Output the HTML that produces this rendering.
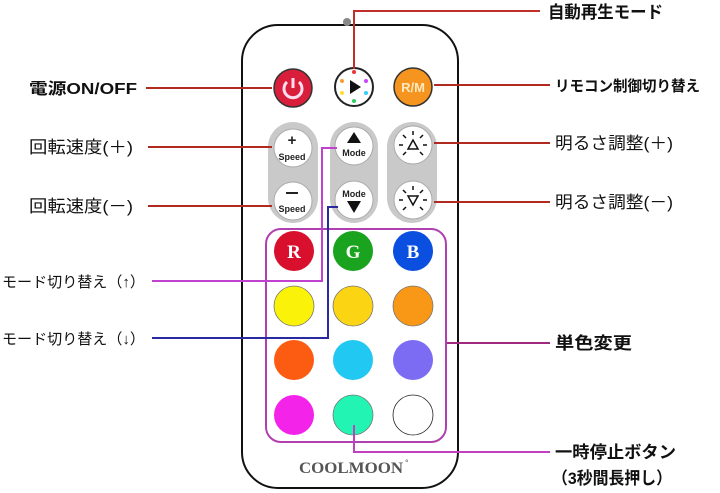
<!DOCTYPE html>
<html><head><meta charset="utf-8"><style>
html,body{margin:0;padding:0;background:#fff;width:720px;height:493px;overflow:hidden}
text{font-family:"Liberation Sans","Noto Sans CJK JP",sans-serif;}
</style></head><body>
<svg width="720" height="493" viewBox="0 0 720 493" xmlns="http://www.w3.org/2000/svg">
<rect x="242" y="25" width="216" height="463" rx="36" fill="#fff" stroke="#111" stroke-width="2"/>
<circle cx="347" cy="22" r="4" fill="#888"/>
<circle cx="293" cy="88" r="19" fill="#d81e3a" stroke="#333" stroke-width="1.5"/>
<path d="M287 82 A9 9 0 1 0 299 82" fill="none" stroke="#fde" stroke-width="3"/>
<line x1="293" y1="78" x2="293" y2="88" stroke="#fde" stroke-width="3"/>
<circle cx="354" cy="87" r="19" fill="#fff" stroke="#222" stroke-width="2"/>
<path d="M350 80 L361 87 L350 94 Z" fill="#111"/>
<circle cx="354" cy="72" r="2" fill="#e33"/><circle cx="366" cy="81" r="2" fill="#c4f"/><circle cx="366" cy="93" r="2" fill="#3cf"/><circle cx="354" cy="101" r="2" fill="#3c6"/><circle cx="342" cy="93" r="2" fill="#fd3"/><circle cx="342" cy="81" r="2" fill="#f93"/>
<circle cx="413" cy="87" r="19" fill="#f5951f" stroke="#333" stroke-width="1.5"/>
<text x="413" y="92" font-size="13" font-weight="bold" fill="#fde9c0" text-anchor="middle">R/M</text>
<rect x="268" y="122" width="50" height="101" rx="25" fill="#c9c9c9"/>
<rect x="330" y="122" width="48" height="101" rx="24" fill="#c9c9c9"/>
<rect x="387" y="122" width="50" height="101" rx="25" fill="#c9c9c9"/>
<g fill="#fff" stroke="#aaa" stroke-width="1">
<circle cx="293" cy="148" r="19"/><circle cx="293" cy="201" r="19"/>
<circle cx="354" cy="146" r="19"/><circle cx="354" cy="200" r="19"/>
<circle cx="413" cy="145" r="19"/><circle cx="413" cy="200" r="19"/>
</g>
<text x="292" y="145" font-size="15" font-weight="bold" text-anchor="middle" fill="#222">+</text>
<text x="292" y="160" font-size="9" font-weight="bold" text-anchor="middle" fill="#222">Speed</text>
<line x1="286" y1="193" x2="298" y2="193" stroke="#222" stroke-width="2"/>
<text x="292" y="212" font-size="9" font-weight="bold" text-anchor="middle" fill="#222">Speed</text>
<path d="M347 143 L354 132 L361 143 Z" fill="#111"/>
<text x="354" y="156" font-size="9" font-weight="bold" text-anchor="middle" fill="#222">Mode</text>
<text x="354" y="197" font-size="9" font-weight="bold" text-anchor="middle" fill="#222">Mode</text>
<path d="M347 201 L361 201 L354 213 Z" fill="#111"/>
<g stroke="#111" stroke-width="1.5" fill="none">
<path d="M408 149 L413 140 L418 149 Z"/><path d="M408 196 L418 196 L413 205 Z"/>
<line x1="399" y1="145" x2="403" y2="145"/><line x1="423" y1="145" x2="427" y2="145"/><line x1="413" y1="131" x2="413" y2="135"/><line x1="403" y1="135" x2="406" y2="138"/><line x1="423" y1="135" x2="420" y2="138"/><line x1="403" y1="155" x2="406" y2="152"/><line x1="423" y1="155" x2="420" y2="152"/>
<line x1="399" y1="200" x2="403" y2="200"/><line x1="423" y1="200" x2="427" y2="200"/><line x1="413" y1="186" x2="413" y2="190"/><line x1="403" y1="190" x2="406" y2="193"/><line x1="423" y1="190" x2="420" y2="193"/><line x1="403" y1="210" x2="406" y2="207"/><line x1="423" y1="210" x2="420" y2="207"/>
</g>
<rect x="266" y="229" width="180" height="213" rx="15" fill="none" stroke="#b040b0" stroke-width="2"/>
<circle cx="294" cy="251" r="20" fill="#d8102e"/><text x="294" y="258" font-size="19" font-weight="bold" fill="#fff" text-anchor="middle" style="font-family:'Liberation Serif',serif">R</text>
<circle cx="353" cy="251" r="20" fill="#1aa31e"/><text x="353" y="258" font-size="19" font-weight="bold" fill="#fff" text-anchor="middle" style="font-family:'Liberation Serif',serif">G</text>
<circle cx="413" cy="251" r="20" fill="#0a4fe0"/><text x="413" y="258" font-size="19" font-weight="bold" fill="#fff" text-anchor="middle" style="font-family:'Liberation Serif',serif">B</text>
<g stroke="#777" stroke-width="0.8">
<circle cx="294" cy="306" r="20" fill="#fbf20a"/><circle cx="353" cy="306" r="20" fill="#fbd414"/><circle cx="413" cy="306" r="20" fill="#f99716"/>
<circle cx="294" cy="360" r="20" fill="#fb5c12" stroke="none"/><circle cx="353" cy="360" r="20" fill="#20c8f2" stroke="none"/><circle cx="413" cy="360" r="20" fill="#7c6cf4" stroke="none"/>
<circle cx="294" cy="415" r="20" fill="#f423ea" stroke="none"/><circle cx="353" cy="415" r="20" fill="#22f4b4"/><circle cx="413" cy="415" r="20" fill="#fff" stroke="#222"/>
</g>
<text x="299" y="473" font-size="16" font-weight="bold" fill="#555" textLength="104" lengthAdjust="spacingAndGlyphs" style="font-family:'Liberation Serif',serif">COOLMOON</text>
<text x="405" y="466" font-size="9" fill="#555">°</text>
<g fill="none" stroke-width="2">
<path d="M354 69 V11 H540" stroke="#c0302a"/>
<path d="M146 88 H272" stroke="#b02a20"/>
<path d="M148 147 H272" stroke="#b02a20"/>
<path d="M148 206 H272" stroke="#b02a20"/>
<path d="M434 85 H550" stroke="#b02a20"/>
<path d="M434 143 H550" stroke="#b02a20"/>
<path d="M434 202 H550" stroke="#b02a20"/>
<path d="M337 148 H322 V281 H152" stroke="#c040d0"/>
<path d="M338 207 H328 V338 H152" stroke="#2a2aa0"/>
<path d="M447 343 H550" stroke="#a02a80"/>
<path d="M354 425 V452 H550" stroke="#c040c0"/>
</g>
<g font-size="17" fill="#111">
<text x="548" y="18" font-weight="bold" textLength="115" lengthAdjust="spacingAndGlyphs">自動再生モード</text>
<text x="29" y="94" font-weight="bold" font-size="16" textLength="108" lengthAdjust="spacingAndGlyphs">電源ON/OFF</text>
<text x="555" y="91" font-weight="bold" font-size="15" textLength="145" lengthAdjust="spacingAndGlyphs">リモコン制御切り替え</text>
<text x="29" y="153" textLength="104" lengthAdjust="spacingAndGlyphs">回転速度(＋)</text>
<text x="29" y="212" textLength="104" lengthAdjust="spacingAndGlyphs">回転速度(－)</text>
<text x="555" y="149" textLength="118" lengthAdjust="spacingAndGlyphs">明るさ調整(＋)</text>
<text x="555" y="208" textLength="118" lengthAdjust="spacingAndGlyphs">明るさ調整(－)</text>
<text x="2" y="287" font-size="15" textLength="143" lengthAdjust="spacingAndGlyphs">モード切り替え（↑）</text>
<text x="2" y="344" font-size="15" textLength="143" lengthAdjust="spacingAndGlyphs">モード切り替え（↓）</text>
<text x="555" y="349" font-weight="bold" textLength="77" lengthAdjust="spacingAndGlyphs">単色変更</text>
<text x="555" y="458" font-weight="bold" textLength="121" lengthAdjust="spacingAndGlyphs">一時停止ボタン</text>
<text x="552" y="484" font-weight="bold" textLength="120" lengthAdjust="spacingAndGlyphs">（3秒間長押し）</text>
</g>
</svg>
</body></html>
